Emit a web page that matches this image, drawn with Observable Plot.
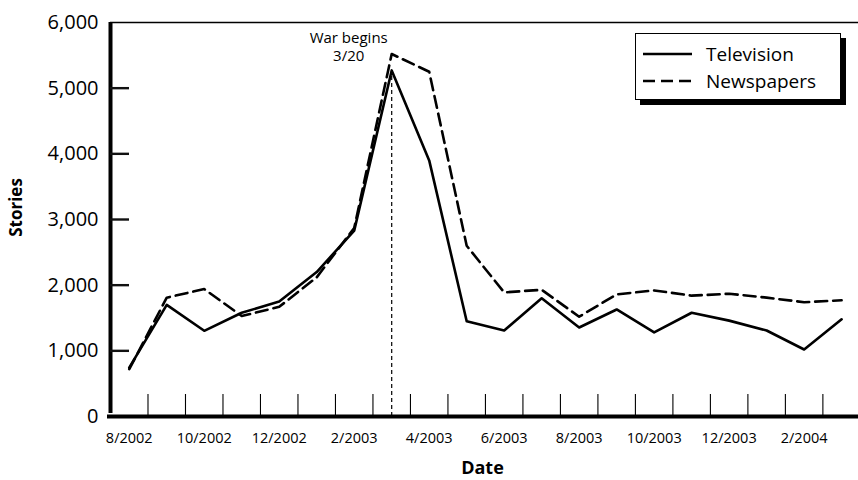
<!DOCTYPE html>
<html>
<head>
<meta charset="utf-8">
<script src="https://cdn.jsdelivr.net/npm/d3@7"></script>
<script src="https://cdn.jsdelivr.net/npm/@observablehq/plot@0.6"></script>
<style>
  body { margin: 0; background: #fff; font-family: "Open Sans", sans-serif; }
  #wrap { position: relative; width: 858px; height: 480px; }
  #legend { position: absolute; left: 635px; top: 33px; width: 204px; height: 65px;
            border: 1.5px solid #000; background: #fff; box-shadow: 5px 5px 0 #000; }
  .row { position: absolute; left: 7px; height: 20px; display: flex; align-items: center; }
  .row span { margin-left: 13px; font-size: 19px; color: #000; line-height: 20px; }
</style>
</head>
<body>
<div id="wrap"></div>
<script>
// ---- data ----
const months = ["8/2002","9/2002","10/2002","11/2002","12/2002","1/2003","2/2003","3/2003","4/2003","5/2003",
                "6/2003","7/2003","8/2003","9/2003","10/2003","11/2003","12/2003","1/2004","2/2004","3/2004"];
const television = [745, 1700, 1305, 1580, 1750, 2200, 2830, 5270, 3900, 1450,
                    1310, 1800, 1355, 1630, 1280, 1580, 1460, 1310, 1020, 1480];
const newspapers = [720, 1810, 1940, 1530, 1670, 2120, 2870, 5520, 5250, 2600,
                    1890, 1930, 1520, 1860, 1920, 1840, 1870, 1810, 1740, 1770];
const tickLabels = ["8/2002","10/2002","12/2002","2/2003","4/2003","6/2003","8/2003","10/2003","12/2003","2/2004"];
const yTicks = [0, 1000, 2000, 3000, 4000, 5000, 6000];
const seriesNames = ["Television", "Newspapers"];
const warMonth = "3/2003";
const warLabel = "War begins\n3/20";
const xTitle = "Date";
const yTitle = "Stories";

// ---- build table ----
const rows = months.map((m, i) => ({ i: i + 0.5, month: m, Television: television[i], Newspapers: newspapers[i] }));
const warRow = rows.find(r => r.month === warMonth);
const labelPos = tickLabels.map(t => months.indexOf(t) + 0.5);
const boundaries = d3.range(1, months.length);
const innerTicks = yTicks.slice(1, -1);

const chart = Plot.plot({
  width: 858,
  height: 480,
  marginLeft: 110,
  marginRight: 0,
  marginTop: 22,
  marginBottom: 64,
  style: { fontFamily: "Open Sans, sans-serif", color: "#000", background: "#fff" },
  x: { type: "linear", domain: [0, months.length - 0.05] },
  y: { domain: [0, 6000] },
  marks: [
    // top frame line
    Plot.ruleY([6000], { stroke: "#000", strokeWidth: 1.3 }),
    // y labels
    Plot.axisY({ ticks: yTicks, tickSize: 0, tickPadding: 12, tickFormat: d3.format(","), label: null, fontSize: 20 }),
    // x-axis upward ticks at month boundaries
    Plot.axisX({ ticks: boundaries, tickSize: -22, tickFormat: () => "", label: null, strokeWidth: 1.1 }),
    // x labels
    Plot.axisX({ ticks: labelPos, tickSize: 0, tickPadding: 16, tickFormat: d => months[Math.floor(d)], label: null, fontSize: 14.5 }),
    // war marker
    Plot.ruleX([warRow], { x: "i", y1: 0, y2: "Television", stroke: "#000", strokeWidth: 1.2, strokeDasharray: "4,3" }),
    Plot.text([warRow], { x: "i", frameAnchor: "top", dx: -43, dy: 7, lineAnchor: "top", lineHeight: 1.22,
                          text: () => warLabel, fontSize: 15, fill: "#000", textAnchor: "middle" }),
    // series
    Plot.line(rows, { x: "i", y: "Television", stroke: "#000", strokeWidth: 2.6 }),
    Plot.line(rows, { x: "i", y: "Newspapers", stroke: "#000", strokeWidth: 2.6, strokeDasharray: "12,6" }),
    // axis lines
    Plot.ruleX([0], { stroke: "#000", strokeWidth: 4, y1: 0, y2: 6000, insetTop: -3 }),
    Plot.ruleY([0], { stroke: "#000", strokeWidth: 4, insetLeft: -3 }),
    // y-axis inward ticks (short horizontal tick marks on the axis)
    Plot.tickY(innerTicks, { y: d => d, stroke: "#111", strokeWidth: 2.4, insetRight: 858 - 110 - 19 }),
    // axis titles
    Plot.text([yTitle], { frameAnchor: "left", textAnchor: "middle", lineAnchor: "middle", dx: -94, dy: -12,
                          rotate: -90, fontSize: 17, fontWeight: "bold", fill: "#000" }),
    Plot.text([xTitle], { frameAnchor: "bottom", textAnchor: "middle", lineAnchor: "middle", dy: 52, dx: -2,
                          fontSize: 18, fontWeight: "bold", fill: "#000" })
  ]
});

const wrap = document.getElementById("wrap");
wrap.appendChild(chart);

// legend
const legend = document.createElement("div");
legend.id = "legend";
const dashes = ["", "12,6"];
seriesNames.forEach((name, k) => {
  const row = document.createElement("div");
  row.className = "row";
  row.style.top = (10 + k * 27) + "px";
  row.innerHTML = `<svg width="50" height="6"><line x1="0" y1="3" x2="49" y2="3" stroke="#000" stroke-width="2.6" ${dashes[k] ? `stroke-dasharray="${dashes[k]}"` : ""}/></svg><span>${name}</span>`;
  legend.appendChild(row);
});
wrap.appendChild(legend);
</script>
</body>
</html>
